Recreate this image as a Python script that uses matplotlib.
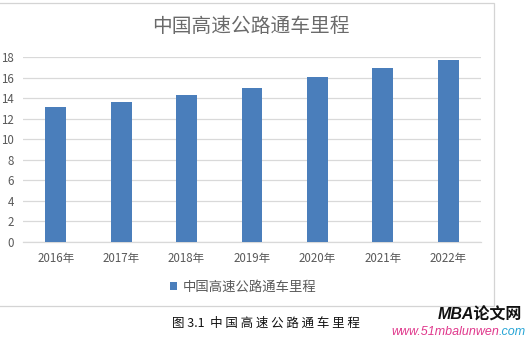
import matplotlib
matplotlib.use("Agg")
import matplotlib.pyplot as plt
from matplotlib.patches import Rectangle

plt.rcParams["font.family"] = ["Noto Sans CJK SC", "DejaVu Sans"]

years = ["2016年", "2017年", "2018年", "2019年", "2020年", "2021年", "2022年"]
mileage = [13.1, 13.6, 14.3, 15.0, 16.1, 16.9, 17.7]
yticks = [0, 2, 4, 6, 8, 10, 12, 14, 16, 18]

W, H = 528, 338
fig = plt.figure(figsize=(W / 100, H / 100), dpi=100)
fig.patch.set_facecolor("white")

# chart frame (Excel chart area border)
fig.add_artist(Rectangle((-0.01, 1 - 306 / H), 0.01 + 494 / W, (306 - 3) / H,
                         transform=fig.transFigure, fill=False,
                         edgecolor="#d4d4d4", linewidth=0.9))

ax = fig.add_axes([23 / W, 1 - 242 / H, (481 - 23) / W, (242 - 57) / H])
ax.bar(range(len(years)), mileage, width=0.32, color="#4a7ebb",
       label="中国高速公路通车里程", zorder=3)
ax.set_xlim(-0.5, len(years) - 0.5)
ax.set_ylim(0, 18)
ax.set_yticks(yticks)
ax.set_xticks(range(len(years)))
ax.set_xticklabels(years)
ax.grid(axis="y", color="#d9d9d9", linewidth=0.9, zorder=0)
for s in ["top", "right", "left"]:
    ax.spines[s].set_visible(False)
ax.spines["bottom"].set_color("#d9d9d9")
ax.spines["bottom"].set_linewidth(0.9)
ax.tick_params(axis="both", length=0, colors="#595959", labelsize=8.3)
ax.tick_params(axis="y", pad=6.5)
ax.tick_params(axis="x", pad=7)

fig.text(251 / W, 1 - 26 / H, "中国高速公路通车里程", ha="center", va="center",
         fontsize=14.2, color="#6a6a6a", fontweight="light")

fig.legend(loc="center", bbox_to_anchor=(243 / W, 1 - 287 / H), frameon=False,
           fontsize=9.6, handlelength=0.55, handleheight=0.55, handletextpad=0.4,
           labelcolor="#595959")

fig.text(266 / W, 1 - 323 / H, "图 3.1  中 国 高 速 公 路 通 车 里 程",
         ha="center", va="center", fontsize=9, color="#111111")

# watermark
fig.text(522 / W, 1 - 315 / H, "MBA论文网", ha="right", va="center",
         fontsize=11.5, fontweight="bold", fontstyle="italic", color="#111111",
         family=["Liberation Sans", "Noto Sans CJK SC"])
t_com = fig.text(526 / W, 1 - 332 / H, ".com", ha="right", va="center",
                 fontsize=9, fontstyle="italic", color="#2aa6d6",
                 family=["Liberation Sans"])
fig.canvas.draw()
bb = t_com.get_window_extent()
fig.text(bb.x0 / W, 1 - 332 / H, "www.51mbalunwen", ha="right", va="center",
         fontsize=9, fontstyle="italic", color="#e0388c",
         family=["Liberation Sans"])

fig.savefig("out.png", dpi=100, facecolor="white")
